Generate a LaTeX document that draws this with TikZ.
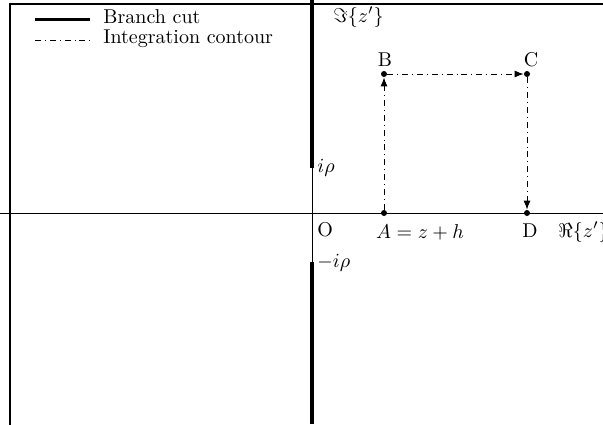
\documentclass[tikz,border=0pt]{standalone}
\usetikzlibrary{arrows.meta}
\begin{document}
\begin{tikzpicture}[x=0.5pt,y=-0.5pt,
  axis/.style={line width=0.4pt},
  cut/.style={line width=1.8pt},
  contour/.style={dash dot,line width=0.45pt,-{Latex[length=4.5pt,width=3.5pt]}},
  pt/.style={circle,fill,inner sep=0pt,minimum size=3pt},
  lbl/.style={inner sep=1pt}]
\useasboundingbox (0,0) rectangle (603,424);
\clip (0,0) rectangle (603,424);
\draw[line width=0.9pt] (10,4) rectangle (700,500);
% axes
\coordinate (xl) at (0,213); \coordinate (xr) at (603,213);
\coordinate (yt) at (312,0); \coordinate (yb) at (312,424);
\coordinate (ip) at (312,168); \coordinate (mip) at (312,262);
\draw[axis] (xl) -- (xr);
\draw[axis] (yt) -- (yb);
\draw[cut] (yt) -- (ip);
\draw[cut] (mip) -- (yb);
% points
\node[pt] (A) at (384,213) {};
\node[pt] (B) at (384,74) {};
\node[pt] (C) at (527,74) {};
\node[pt] (D) at (527,213) {};
\draw[contour] (A) -- (B);
\draw[contour] (B) -- (C);
\draw[contour] (C) -- (D);
% labels
\node[lbl] (lB) at (385,60) {B};
\node[lbl] (lC) at (531,60) {C};
\node[lbl,anchor=west] (lip) at (315,168) {$i\rho$};
\node[lbl,anchor=west] (lmip) at (315,263) {$-i\rho$};
\node[lbl,anchor=west] (lO) at (315,230) {O};
\node[lbl] (lA) at (420,232) {$A=z+h$};
\node[lbl] (lD) at (530,231) {D};
\node[lbl,anchor=west] (lRe) at (556,232) {$\Re\{z'\}$};
\node[lbl,anchor=west] (lIm) at (331,17) {$\Im\{z'\}$};
% legend
\coordinate (l1a) at (35,19); \coordinate (l1b) at (90,19);
\coordinate (l2a) at (35,40); \coordinate (l2b) at (90,40);
\draw[cut,line width=1.5pt] (l1a) -- (l1b);
\draw[dash dot,line width=0.45pt] (l2a) -- (l2b);
\node[lbl,anchor=west] (t1) at (101,17) {Branch cut};
\node[lbl,anchor=west] (t2) at (101,39) {Integration contour};
\end{tikzpicture}
\end{document}
